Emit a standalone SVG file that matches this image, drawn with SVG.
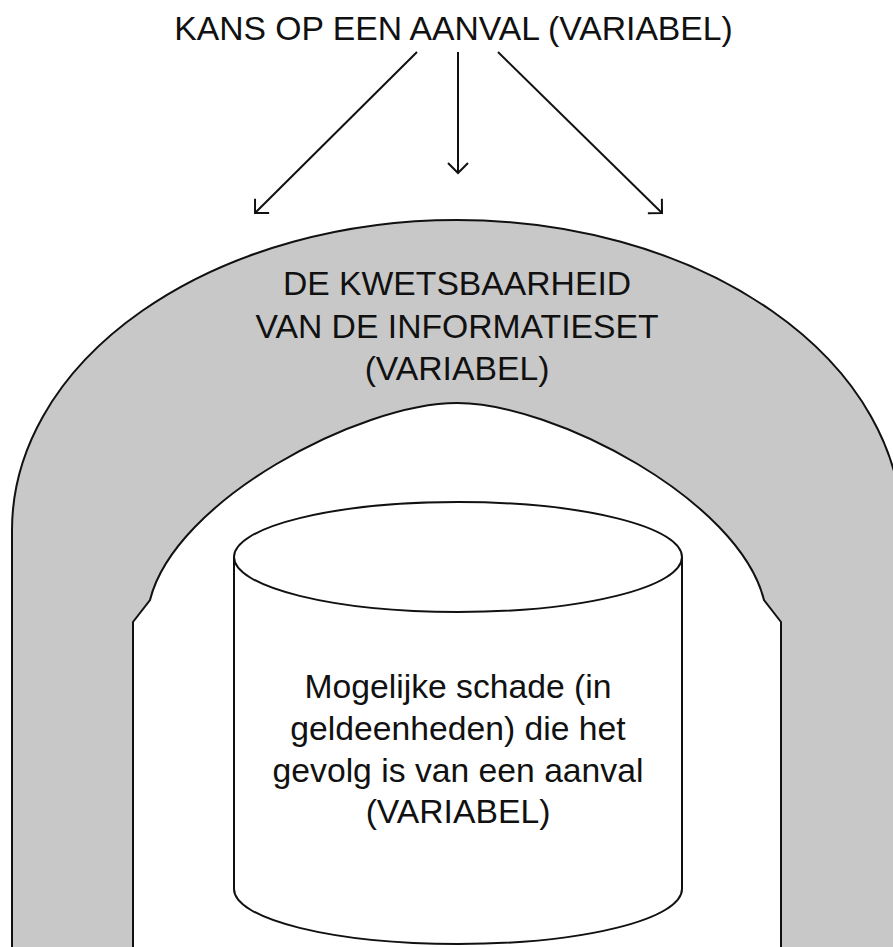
<svg xmlns="http://www.w3.org/2000/svg" width="893" height="947" viewBox="0 0 893 947">
<style>
.t{font-family:"Liberation Sans",Arial,sans-serif;font-size:33.7px;fill:#111;text-anchor:middle}
.ln{stroke:#111;stroke-width:2;fill:none}
</style>
<defs>
<marker id="ah" markerUnits="userSpaceOnUse" markerWidth="30" markerHeight="30" viewBox="-15 -15 30 30" refX="0" refY="0" orient="auto">
<path d="M-10,-10 L0,0 L-10,10" fill="none" stroke="#111" stroke-width="2"/>
</marker>
</defs>
<rect width="893" height="947" fill="#fff"/>
<g id="title">
<text class="t" x="453.5" y="40">KANS OP EEN AANVAL (VARIABEL)</text>
</g>
<g id="connectors">
<line class="ln" x1="417" y1="52" x2="255" y2="213" marker-end="url(#ah)"/>
<line class="ln" x1="458" y1="52" x2="458" y2="173" marker-end="url(#ah)"/>
<line class="ln" x1="498" y1="52" x2="662" y2="213" marker-end="url(#ah)"/>
</g>
<g id="arch">
<path d="M12,950 L12,530 A445,310 0 0 1 902,530 L902,950 L781,950 L781,622 L764,600 C739,500 554,403 457,403 C360,403 175,500 150,600 L133,622 L133,950 Z" fill="#c8c8c8" stroke="#111" stroke-width="2"/>
<text class="t" x="457" y="295">DE KWETSBAARHEID</text>
<text class="t" x="457" y="338">VAN DE INFORMATIESET</text>
<text class="t" x="457" y="380">(VARIABEL)</text>
</g>
<g id="cylinder">
<path d="M234,557 L234,889 A224,55 0 0 0 682,889 L682,557 Z" fill="#fff" stroke="#111" stroke-width="2"/>
<ellipse cx="458" cy="557" rx="224" ry="55" fill="#fff" stroke="#111" stroke-width="2"/>
<text class="t" x="458" y="698">Mogelijke schade (in</text>
<text class="t" x="458" y="740">geldeenheden) die het</text>
<text class="t" x="458" y="782">gevolg is van een aanval</text>
<text class="t" x="458" y="823">(VARIABEL)</text>
</g>
</svg>
